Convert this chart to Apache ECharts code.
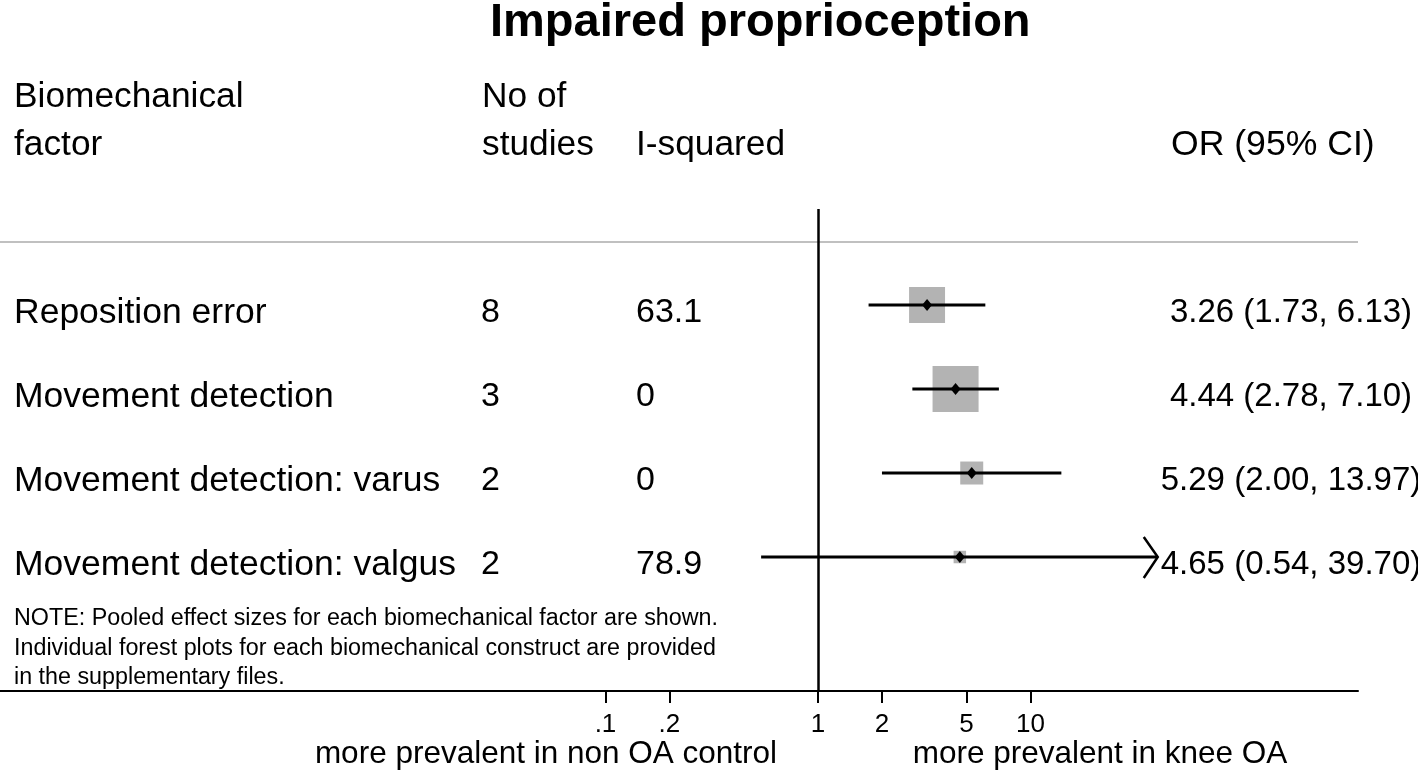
<!DOCTYPE html>
<html><head><meta charset="utf-8">
<script src="https://cdn.jsdelivr.net/npm/echarts@6/dist/echarts.min.js"></script>
<style>html,body{margin:0;padding:0;background:#fff}#c{width:1418px;height:772px}</style>
</head><body><div id="c"></div>
<script>
// ---- data ----
const factors = ['Reposition error', 'Movement detection', 'Movement detection: varus', 'Movement detection: valgus'];
const nStudies = [8, 3, 2, 2];
const iSquared = ['63.1', '0', '0', '78.9'];
const orValues = [3.26, 4.44, 5.29, 4.65];
const ciLower = [1.73, 2.78, 2.00, 0.54];
const ciUpper = [6.13, 7.10, 13.97, 39.70];
const weights = [31.6, 51.7, 12.9, 3.8];
const arrowRight = [false, false, false, true];
const tickValues = [0.1, 0.2, 1, 2, 5, 10];
const tickLabels = ['.1', '.2', '1', '2', '5', '10'];
const headers = {
  factor: ['Biomechanical', 'factor'],
  studies: ['No of', 'studies'],
  isq: 'I-squared',
  or: 'OR (95% CI)'
};
const noteLines = [
  'NOTE: Pooled effect sizes for each biomechanical factor are shown.',
  'Individual forest plots for each biomechanical construct are provided',
  'in the supplementary files.'
];
const leftName = 'more prevalent in non OA control';
const rightName = 'more prevalent in knee OA';
const titleText = 'Impaired proprioception';

// ---- chart ----
const FF = '"Liberation Sans", Arial, Helvetica, sans-serif';
const chart = echarts.init(document.getElementById('c'), null, {renderer: 'canvas'});
const lg = v => Math.log10(v);
const tickLog = tickValues.map(lg);
const Y_MIN = -0.143, Y_MAX = 5.595;

const forestData = factors.map((f, i) => [lg(orValues[i]), i + 1, lg(ciLower[i]), lg(ciUpper[i]), weights[i], arrowRight[i] ? 1 : 0]);
const textData = factors.map((f, i) => [0, i + 1, i]);
const tickData = tickValues.map((t, i) => [lg(t), Y_MAX, i]);

function fmt(v) { return v.toFixed(2); }

const graphics = [];
function txt(text, x, y, size, align) {
  graphics.push({type: 'text', x: x, y: y, silent: true,
    style: {text: text, x: 0, y: 0, fill: '#000', fontSize: size, fontFamily: FF, align: align || 'left', verticalAlign: 'middle'}});
}
txt(headers.factor[0], 14, 97, 35.3);
txt(headers.factor[1], 14, 145, 35.3);
txt(headers.studies[0], 482, 97, 35.3);
txt(headers.studies[1], 482, 145, 35.3);
txt(headers.isq, 636, 145, 35.3);
txt(headers.or, 1171, 145, 35.6);
noteLines.forEach((t, i) => txt(t, 14, 619 + i * 29.5, 23.3));
txt(leftName, 546, 754, 31.5, 'center');
txt(rightName, 1100, 754, 31.5, 'center');

const option = {
  animation: false,
  backgroundColor: '#fff',
  title: {text: titleText, left: 490, top: 0, padding: 0,
    textStyle: {fontSize: 47, fontWeight: 'bold', color: '#000', fontFamily: FF}},
  grid: {left: 0, right: 60, top: 209, bottom: 81, containLabel: false},
  xAxis: {
    type: 'value', min: -3.849, max: 2.541,
    splitLine: {show: false},
    axisLine: {show: true, onZero: false, lineStyle: {color: '#000', width: 2}},
    axisTick: {show: true, customValues: tickLog, length: 12, lineStyle: {color: '#000', width: 2}},
    axisLabel: {show: false}
  },
  yAxis: {type: 'value', inverse: true, min: Y_MIN, max: Y_MAX, show: false},
  graphic: graphics,
  series: [
    {
      type: 'scatter', data: [], silent: true,
      markLine: {silent: true, symbol: 'none', label: {show: false}, animation: false,
        data: [
          {yAxis: 0.25, lineStyle: {color: '#c0c0c0', width: 2, type: 'solid'}},
          {xAxis: 0, lineStyle: {color: '#000', width: 2.5, type: 'solid'}}
        ]}
    },
    {
      type: 'custom', clip: false, silent: true, data: forestData,
      renderItem: function (params, api) {
        const c = api.coord([api.value(0), api.value(1)]);
        const l = api.coord([api.value(2), api.value(1)]);
        const h = api.coord([api.value(3), api.value(1)]);
        const side = 6.4 * Math.sqrt(api.value(4));
        const ch = [
          {type: 'rect', shape: {x: c[0] - side / 2, y: c[1] - side / 2, width: side, height: side}, style: {fill: '#b3b3b3'}},
          {type: 'line', shape: {x1: l[0], y1: l[1], x2: h[0], y2: h[1]}, style: {stroke: '#000', lineWidth: 3}},
          {type: 'polygon', shape: {points: [[c[0], c[1] - 6], [c[0] + 5, c[1]], [c[0], c[1] + 6], [c[0] - 5, c[1]]]}, style: {fill: '#000'}}
        ];
        if (api.value(5)) {
          ch.push({type: 'polyline', shape: {points: [[h[0] - 14, h[1] - 20], [h[0], h[1]], [h[0] - 14, h[1] + 21]]},
            style: {stroke: '#000', lineWidth: 2.5, fill: null}});
        }
        return {type: 'group', children: ch};
      }
    },
    {
      type: 'custom', clip: false, silent: true, data: tickData,
      renderItem: function (params, api) {
        const p = api.coord([api.value(0), api.value(1)]);
        return {type: 'text', style: {text: tickLabels[api.value(2)], x: p[0], y: p[1] + 34, fill: '#000',
          fontSize: 26, fontFamily: FF, align: 'center', verticalAlign: 'middle'}};
      }
    },
    {
      type: 'custom', clip: false, silent: true, data: textData,
      renderItem: function (params, api) {
        const i = api.value(2);
        const y = api.coord([0, api.value(1)])[1] + 8;
        const mk = (t, x, size, align) => ({type: 'text', style: {text: t, x: x, y: y, fill: '#000', fontSize: size, fontFamily: FF, align: align, verticalAlign: 'middle'}});
        return {type: 'group', children: [
          mk(factors[i], 14, 35.5, 'left'),
          mk(String(nStudies[i]), 481, 34, 'left'),
          mk(iSquared[i], 636, 34, 'left'),
          mk(fmt(orValues[i]) + ' (' + fmt(ciLower[i]) + ', ' + fmt(ciUpper[i]) + ')', 1291, 33, 'center')
        ]};
      }
    }
  ]
};
chart.setOption(option);
</script>
</body></html>
